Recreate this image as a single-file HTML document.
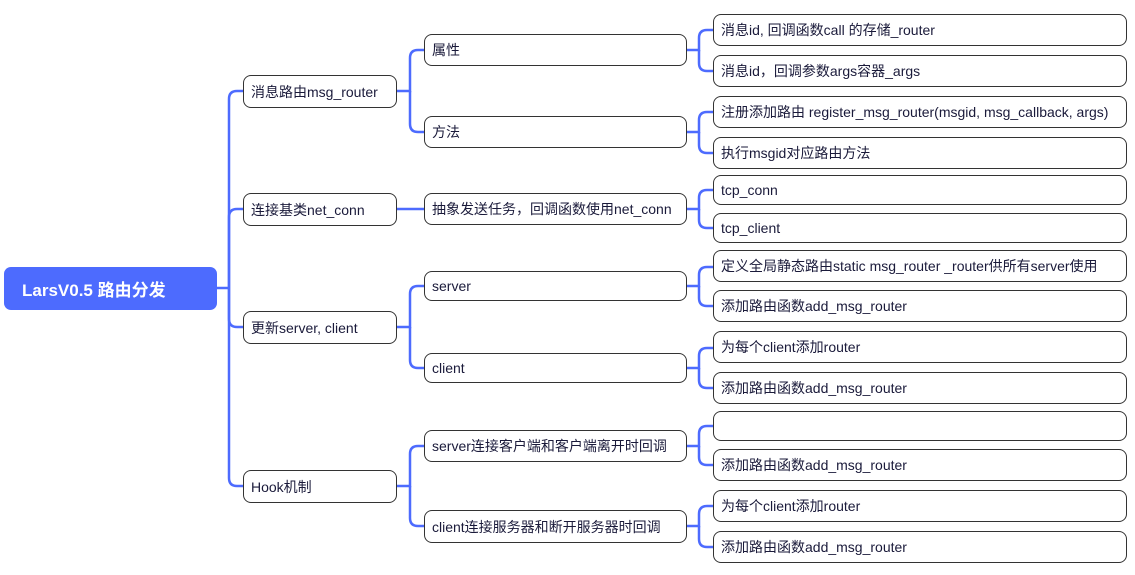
<!DOCTYPE html>
<html><head><meta charset="utf-8"><style>
body{margin:0;width:1135px;height:575px;background:#fff;position:relative;overflow:hidden;font-family:"Liberation Sans","Noto Sans CJK SC",sans-serif;}
.b{position:absolute;box-sizing:border-box;border:1.5px solid #333;border-radius:8px;background:#fff;font-size:14px;color:#1a1a3a;padding-left:7px;display:flex;align-items:center;white-space:nowrap;}
.r{position:absolute;left:4px;top:267px;width:213px;height:43px;background:#4d6bfe;border-radius:7px;color:#fff;font-weight:bold;font-size:17px;display:flex;align-items:center;padding-left:18px;box-sizing:border-box;}
svg{position:absolute;left:0;top:0;}
</style></head><body>
<svg width="1135" height="575" fill="none" stroke="#4d6bfe" stroke-width="2.5">
<path d="M217 288H229"/>
<path d="M229 288V99Q229 91 237 91H243"/>
<path d="M229 288V217Q229 209 237 209H243"/>
<path d="M229 288V319Q229 327 237 327H243"/>
<path d="M229 288V478Q229 486 237 486H243"/>
<path d="M397 91H410V58Q410 50 418 50H424"/>
<path d="M410 91V124Q410 132 418 132H424"/>
<path d="M397 209H424"/>
<path d="M397 327H410V294Q410 286 418 286H424"/>
<path d="M410 327V360Q410 368 418 368H424"/>
<path d="M397 486H410V454Q410 446 418 446H424"/>
<path d="M410 486V518Q410 526 418 526H424"/>
<path d="M687 50H699V38Q699 30 707 30H713"/>
<path d="M699 50V63Q699 71 707 71H713"/>
<path d="M687 132H699V120Q699 112 707 112H713"/>
<path d="M699 132V145Q699 153 707 153H713"/>
<path d="M687 209H699V198Q699 190 707 190H713"/>
<path d="M699 209V220Q699 228 707 228H713"/>
<path d="M687 286H699V275Q699 267 707 267H713"/>
<path d="M699 286V298Q699 306 707 306H713"/>
<path d="M687 368H699V356Q699 348 707 348H713"/>
<path d="M699 368V380Q699 388 707 388H713"/>
<path d="M687 446H699V434Q699 426 707 426H713"/>
<path d="M699 446V457Q699 465 707 465H713"/>
<path d="M687 526H699V514Q699 506 707 506H713"/>
<path d="M699 526V539Q699 547 707 547H713"/>
</svg>
<div class="r">LarsV0.5 路由分发</div>
<div class="b" style="left:243px;top:75px;width:154px;height:33px">消息路由msg_router</div>
<div class="b" style="left:243px;top:193px;width:154px;height:33px">连接基类net_conn</div>
<div class="b" style="left:243px;top:311px;width:154px;height:33px">更新server, client</div>
<div class="b" style="left:243px;top:470px;width:154px;height:33px">Hook机制</div>
<div class="b" style="left:424px;top:34px;width:263px;height:32px">属性</div>
<div class="b" style="left:424px;top:116px;width:263px;height:32px">方法</div>
<div class="b" style="left:424px;top:193px;width:263px;height:32px">抽象发送任务，回调函数使用net_conn</div>
<div class="b" style="left:424px;top:271px;width:263px;height:30px">server</div>
<div class="b" style="left:424px;top:353px;width:263px;height:30px">client</div>
<div class="b" style="left:424px;top:430px;width:263px;height:32px">server连接客户端和客户端离开时回调</div>
<div class="b" style="left:424px;top:510px;width:263px;height:33px">client连接服务器和断开服务器时回调</div>
<div class="b" style="left:713px;top:14px;width:414px;height:32px">消息id, 回调函数call 的存储_router</div>
<div class="b" style="left:713px;top:55px;width:414px;height:32px">消息id，回调参数args容器_args</div>
<div class="b" style="left:713px;top:96px;width:414px;height:32px">注册添加路由 register_msg_router(msgid, msg_callback, args)</div>
<div class="b" style="left:713px;top:137px;width:414px;height:32px">执行msgid对应路由方法</div>
<div class="b" style="left:713px;top:175px;width:414px;height:30px">tcp_conn</div>
<div class="b" style="left:713px;top:213px;width:414px;height:30px">tcp_client</div>
<div class="b" style="left:713px;top:250px;width:414px;height:32px">定义全局静态路由static msg_router _router供所有server使用</div>
<div class="b" style="left:713px;top:290px;width:414px;height:32px">添加路由函数add_msg_router</div>
<div class="b" style="left:713px;top:331px;width:414px;height:32px">为每个client添加router</div>
<div class="b" style="left:713px;top:372px;width:414px;height:32px">添加路由函数add_msg_router</div>
<div class="b" style="left:713px;top:411px;width:414px;height:30px"></div>
<div class="b" style="left:713px;top:449px;width:414px;height:32px">添加路由函数add_msg_router</div>
<div class="b" style="left:713px;top:490px;width:414px;height:32px">为每个client添加router</div>
<div class="b" style="left:713px;top:531px;width:414px;height:32px">添加路由函数add_msg_router</div>
</body></html>
